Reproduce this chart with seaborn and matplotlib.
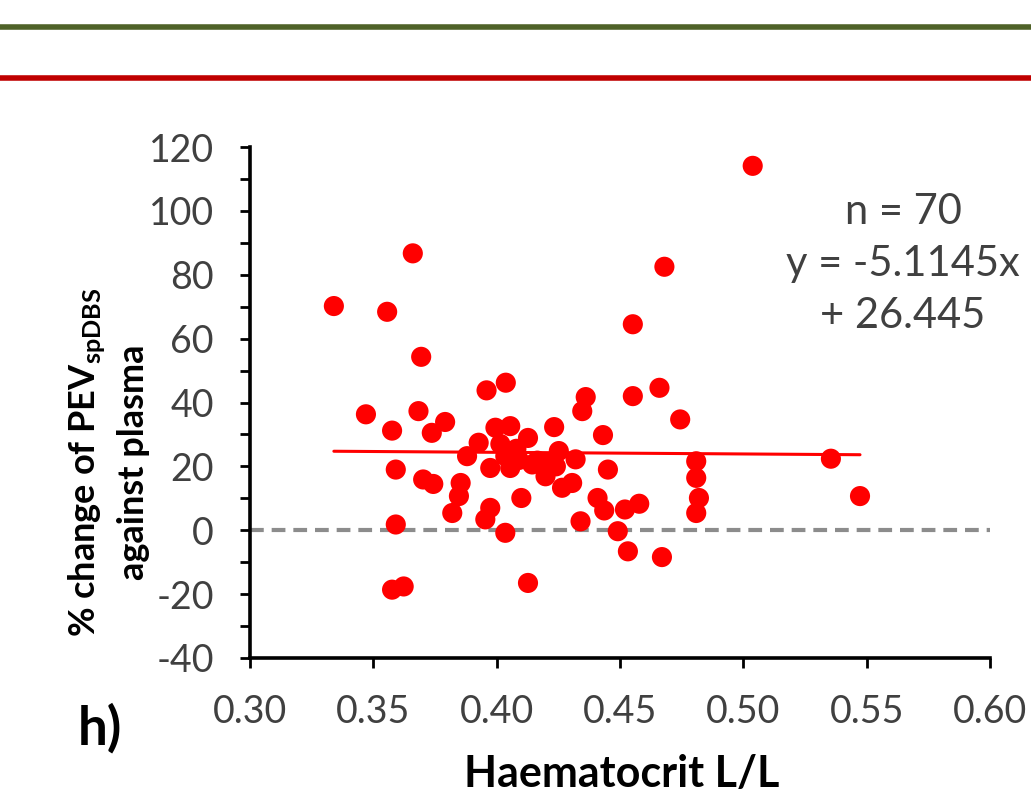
import numpy as np
import pandas as pd
import matplotlib
matplotlib.use("Agg")
import matplotlib.pyplot as plt
from matplotlib.lines import Line2D
from matplotlib.ticker import MultipleLocator
import seaborn as sns

# Haematocrit (L/L) for each sample
hct = [0.334, 0.347, 0.3556, 0.3576, 0.3591, 0.3591, 0.3576, 0.3623, 0.366, 0.3683,
       0.3694, 0.3702, 0.3743, 0.3737, 0.3791, 0.382, 0.3847, 0.3854, 0.388, 0.3927,
       0.3954, 0.3959, 0.3974, 0.3974, 0.3995, 0.4015, 0.4035, 0.4037, 0.4035, 0.4055,
       0.4055, 0.41, 0.4127, 0.4127, 0.4144, 0.4198, 0.4198, 0.4233, 0.4252, 0.4265,
       0.4306, 0.432, 0.434, 0.4347, 0.4361, 0.4409, 0.4431, 0.4436, 0.4451, 0.4491,
       0.452, 0.4532, 0.4552, 0.4552, 0.4578, 0.466, 0.467, 0.468, 0.4744, 0.4809,
       0.4809, 0.482, 0.4809, 0.5038, 0.5355, 0.5473, 0.409, 0.4165, 0.408, 0.424]

# % change of PEV (spDBS) against plasma
pct_change = [70.2, 36.3, 68.4, 31.2, 19.0, 1.8, -18.6, -17.6, 86.7, 37.3,
              54.3, 15.9, 14.5, 30.5, 33.9, 5.4, 10.7, 14.8, 23.2, 27.4,
              3.4, 43.8, 7.0, 19.5, 32.1, 27.0, 23.2, 46.2, -0.8, 32.6,
              19.5, 10.1, 28.9, -16.5, 20.6, 21.1, 16.9, 32.3, 24.8, 13.3,
              14.8, 22.2, 2.8, 37.3, 41.7, 10.1, 29.8, 6.2, 19.0, -0.3,
              6.5, -6.6, 42.0, 64.5, 8.3, 44.6, -8.4, 82.5, 34.7, 21.6,
              16.4, 10.1, 5.4, 114.1, 22.4, 10.7, 22.0, 21.8, 25.5, 20.0]

# Reported linear fit
slope = -5.1145
intercept = 26.445
n_samples = 70

x_ticks = [0.30, 0.35, 0.40, 0.45, 0.50, 0.55, 0.60]
y_ticks = [-40, -20, 0, 20, 40, 60, 80, 100, 120]

df = pd.DataFrame({"hct": hct, "pct": pct_change})

sns.set_theme(style="white")
plt.rcParams["font.family"] = ["Lato", "DejaVu Sans"]
plt.rcParams["mathtext.fontset"] = "custom"
plt.rcParams["mathtext.rm"] = "Lato"
plt.rcParams["mathtext.bf"] = "Lato:bold"

fig = plt.figure(figsize=(10.31, 8.10), dpi=100)
ax = fig.add_axes([250 / 1031, 1 - 658 / 810, 740 / 1031, 511 / 810])

# zero reference line
ax.axhline(0, color="#8c8c8c", lw=3, dashes=(3.3, 1.9), zorder=1)

sns.scatterplot(data=df, x="hct", y="pct", ax=ax, color="#ff0000",
                s=210, edgecolor="none", linewidth=0, zorder=3, legend=False)

xfit = np.array([min(hct), max(hct)])
yfit = slope * xfit + intercept
ax.plot(xfit, yfit, color="#ff0000", lw=2.2, zorder=2)

ax.set_xlim(0.30, 0.60)
ax.set_ylim(-40, 120)
ax.set_xticks(x_ticks)
ax.set_xticklabels([f"{v:.2f}" for v in x_ticks])
ax.set_yticks(y_ticks)
ax.set_yticklabels([str(v) for v in y_ticks])
ax.yaxis.set_minor_locator(MultipleLocator(10))

for side in ("top", "right"):
    ax.spines[side].set_visible(False)
for side in ("left", "bottom"):
    ax.spines[side].set_linewidth(2.6)
    ax.spines[side].set_color("black")

ax.tick_params(axis="both", which="both", direction="out", length=7, width=2,
               color="black", labelsize=27, labelcolor="#404040")
ax.tick_params(axis="y", which="both", left=True, pad=19)
ax.tick_params(axis="x", which="major", bottom=True, pad=19)
ax.set_xlabel("")
ax.set_ylabel("")

fig.text(108 / 1031, 1 - 462 / 810,
         "% change of PEV$_{\\mathbf{spDBS}}$\nagainst plasma",
         rotation=90, ha="center", va="center", multialignment="center",
         fontsize=26, fontweight="bold", color="black", linespacing=1.35)
fig.text(622 / 1031, 1 - 774 / 810, "Haematocrit L/L", ha="center", va="center",
         fontsize=31, fontweight="bold", color="black")
fig.text(100 / 1031, 1 - 728 / 810, "h)", ha="center", va="center",
         fontsize=38, fontweight="bold", color="black")

fig.text(903 / 1031, 1 - 264 / 810, f"n = {n_samples}\ny = {slope}x\n+ {intercept}",
         ha="center", va="center", multialignment="center",
         fontsize=30, color="#404040", linespacing=1.45)

# header rules
fig.add_artist(Line2D([0, 1], [1 - 27 / 810, 1 - 27 / 810], transform=fig.transFigure,
                      color="#4f6228", lw=4))
fig.add_artist(Line2D([0, 1], [1 - 78 / 810, 1 - 78 / 810], transform=fig.transFigure,
                      color="#c00000", lw=4))

fig.savefig("out.png", dpi=100)
